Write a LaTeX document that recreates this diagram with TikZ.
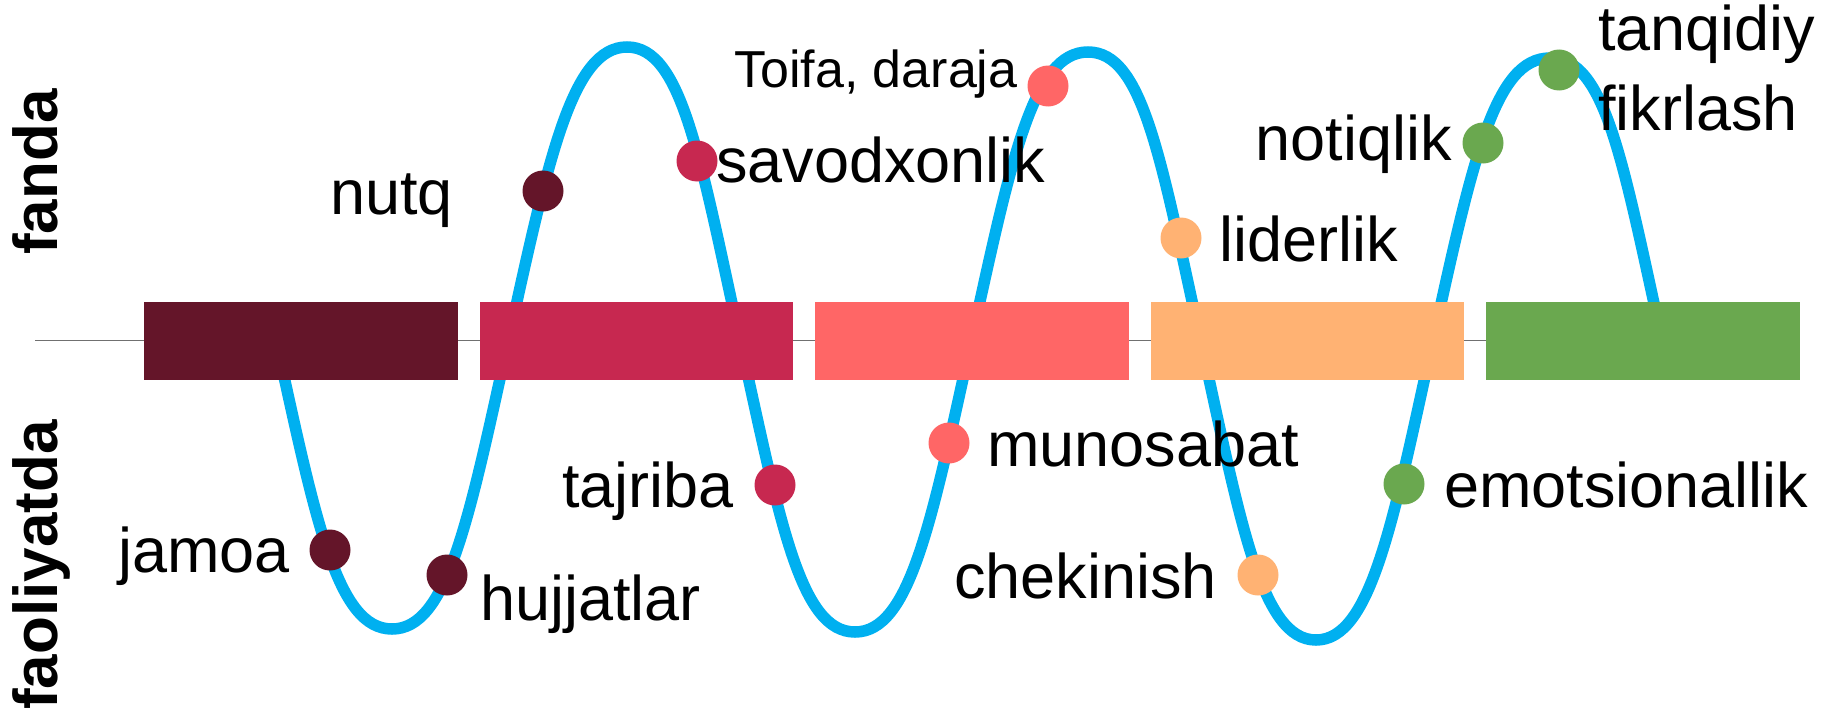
\documentclass[tikz,border=0pt]{standalone}
\usepackage{fontspec}
\setmainfont{Liberation Sans}
\definecolor{cA}{HTML}{641529}
\definecolor{cB}{HTML}{C72850}
\definecolor{cC}{HTML}{FF6666}
\definecolor{cD}{HTML}{FFB273}
\definecolor{cE}{HTML}{6AA84F}
\definecolor{wavecol}{HTML}{00B0F0}
\definecolor{axiscol}{HTML}{707070}
\begin{document}
\begin{tikzpicture}[x=1pt,y=-1pt,
  bar/.style={draw=none, minimum width=313.5pt, minimum height=78pt, inner sep=0pt, anchor=north west},
  dotnode/.style={circle, draw=none, minimum size=41pt, inner sep=0pt},
  lbl/.style={font=\fontsize{63}{76}\selectfont, inner sep=0pt},
  smalllbl/.style={font=\fontsize{52}{62}\selectfont, inner sep=0pt},
  side/.style={font=\bfseries\fontsize{62}{70}\selectfont, inner sep=0pt, rotate=90, anchor=base west},
  axisline/.style={draw=axiscol, line width=1.7pt},
  wavepath/.style={draw=wavecol, line width=11.5pt}
]
\useasboundingbox (0,0) rectangle (1822,717);
% axis line
\coordinate (l0) at (35,340.5);
\coordinate (l1) at (1790,340.5);
\draw[axisline] (l0) -- (l1);
% wave points
\coordinate (w0) at (276,340);
\coordinate (w1) at (392,629);
\coordinate (w2) at (508.5,340);
\coordinate (w3) at (627,47);
\coordinate (w4) at (740,340);
\coordinate (w5) at (855,632);
\coordinate (w6) at (971.5,340);
\coordinate (w7) at (1088,52);
\coordinate (w8) at (1200.5,340);
\coordinate (w9) at (1316,640);
\coordinate (w10) at (1433,340);
\coordinate (w11) at (1550,58);
\coordinate (w12) at (1662,340);
\draw[wavepath] (w0)
  .. controls +(40,182) and +(-55,0) .. (w1)
  .. controls +(55,0) and +(-40,182) .. (w2)
  .. controls +(40,-182) and +(-55,0) .. (w3)
  .. controls +(55,0) and +(-40,-182) .. (w4)
  .. controls +(40,182) and +(-55,0) .. (w5)
  .. controls +(55,0) and +(-40,182) .. (w6)
  .. controls +(40,-182) and +(-55,0) .. (w7)
  .. controls +(55,0) and +(-40,-182) .. (w8)
  .. controls +(40,182) and +(-55,0) .. (w9)
  .. controls +(55,0) and +(-40,182) .. (w10)
  .. controls +(40,-182) and +(-55,0) .. (w11)
  .. controls +(55,0) and +(-40,-182) .. (w12);
% bars
\node[bar, fill=cA] (b1) at (144,302) {};
\node[bar, fill=cB] (b2) at (479.5,302) {};
\node[bar, fill=cC] (b3) at (815,302) {};
\node[bar, fill=cD] (b4) at (1150.5,302) {};
\node[bar, fill=cE] (b5) at (1486,302) {};
% dots
\node[dotnode, fill=cA] (dnutq) at (543,191) {};
\node[dotnode, fill=cB] (dsavod) at (697,161) {};
\node[dotnode, fill=cA] (djamoa) at (330,550) {};
\node[dotnode, fill=cA] (dhujjat) at (447,575) {};
\node[dotnode, fill=cB] (dtajriba) at (775,485) {};
\node[dotnode, fill=cC] (dtoifa) at (1048,86) {};
\node[dotnode, fill=cC] (dmunos) at (949,443) {};
\node[dotnode, fill=cD] (dlider) at (1181,238) {};
\node[dotnode, fill=cD] (dchek) at (1258,575) {};
\node[dotnode, fill=cE] (demots) at (1404,484) {};
\node[dotnode, fill=cE] (dnotiq) at (1483,143) {};
\node[dotnode, fill=cE] (dtanq) at (1559,70) {};
% labels
\node[lbl, anchor=base east] (tnutq) at (453,214) {nutq};
\node[lbl, anchor=base west] (tsavod) at (716,182) {savodxonlik};
\node[smalllbl, anchor=base west] (ttoifa) at (734,88) {Toifa, daraja};
\node[lbl, anchor=base east] (tjamoa) at (290,572) {jamoa};
\node[lbl, anchor=base west] (thujjat) at (480,620) {hujjatlar};
\node[lbl, anchor=base east] (ttajriba) at (734,507) {tajriba};
\node[lbl, anchor=base west] (tmunos) at (987,466) {munosabat};
\node[lbl, anchor=base west] (tlider) at (1219,261) {liderlik};
\node[lbl, anchor=base east] (tchek) at (1217,598) {chekinish};
\node[lbl, anchor=base west] (temots) at (1444,507) {emotsionallik};
\node[lbl, anchor=base east] (tnotiq) at (1452,160) {notiqlik};
\node[lbl, anchor=base west] (ttanq) at (1598,51) {tanqidiy};
\node[lbl, anchor=base west] (tfikr) at (1598,130) {fikrlash};
% side labels
\node[side] (sfanda) at (57,255) {fanda};
\node[side] (sfaol) at (57,710) {faoliyatda};
\end{tikzpicture}
\end{document}
